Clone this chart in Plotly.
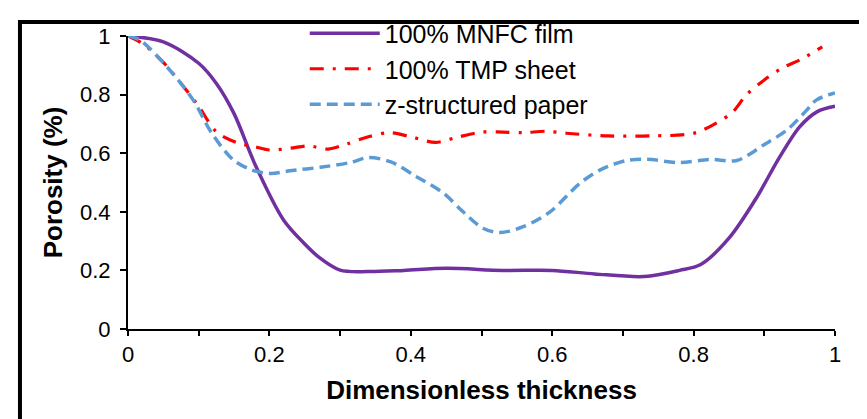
import plotly.graph_objects as go

# ---- data ----
mnfc_x = [0, 0.05, 0.10, 0.125, 0.15, 0.18, 0.22, 0.25, 0.27, 0.30, 0.34, 0.39, 0.45, 0.53,
          0.60, 0.66, 0.73, 0.78, 0.81, 0.85, 0.89, 0.92, 0.95, 0.975, 1.0]
mnfc_y = [1.0, 0.98, 0.907, 0.838, 0.735, 0.56, 0.372, 0.29, 0.245, 0.201, 0.196, 0.2, 0.207, 0.2,
          0.2, 0.188, 0.179, 0.2, 0.22, 0.31, 0.452, 0.58, 0.69, 0.742, 0.76]

tmp_x = [0, 0.02, 0.05, 0.075, 0.10, 0.125, 0.155, 0.18, 0.20, 0.23, 0.255, 0.283, 0.31, 0.34,
         0.37, 0.40, 0.435, 0.465, 0.50, 0.53, 0.56, 0.59, 0.62, 0.68, 0.74, 0.80, 0.83, 0.855,
         0.875, 0.90, 0.925, 0.95, 0.982]
tmp_y = [1.0, 0.975, 0.91, 0.838, 0.76, 0.673, 0.635, 0.622, 0.611, 0.617, 0.625, 0.614, 0.632, 0.656,
         0.67, 0.656, 0.637, 0.654, 0.672, 0.672, 0.67, 0.675, 0.668, 0.659, 0.659, 0.668, 0.70, 0.74,
         0.80, 0.85, 0.89, 0.918, 0.963]

zs_x = [0, 0.017, 0.055, 0.092, 0.118, 0.149, 0.175, 0.201, 0.229, 0.272, 0.314, 0.34, 0.371, 0.408,
        0.446, 0.474, 0.502, 0.526, 0.559, 0.597, 0.639, 0.668, 0.705, 0.734, 0.781, 0.823, 0.861,
        0.899, 0.932, 0.96, 0.974, 1.0]
zs_y = [1.0, 0.986, 0.895, 0.782, 0.67, 0.577, 0.543, 0.531, 0.54, 0.552, 0.568, 0.585, 0.571, 0.52,
        0.464, 0.40, 0.344, 0.329, 0.349, 0.40, 0.497, 0.543, 0.575, 0.579, 0.568, 0.579, 0.575,
        0.628, 0.679, 0.747, 0.782, 0.806]

x_tickvals = [0, 0.1, 0.2, 0.3, 0.4, 0.5, 0.6, 0.7, 0.8, 0.9, 1.0]
x_ticktext = ["0", "", "0.2", "", "0.4", "", "0.6", "", "0.8", "", "1"]
y_tickvals = [0, 0.2, 0.4, 0.6, 0.8, 1.0]
y_ticktext = ["0", "0.2", "0.4", "0.6", "0.8", "1"]

FONT = "Liberation Sans, Arial, sans-serif"

fig = go.Figure()
fig.add_trace(go.Scatter(x=mnfc_x, y=mnfc_y, mode="lines", name="100% MNFC film",
                         line=dict(color="#7030A0", width=3.5, shape="spline", smoothing=0.9)))
fig.add_trace(go.Scatter(x=tmp_x, y=tmp_y, mode="lines", name="100% TMP sheet",
                         line=dict(color="#FF0000", width=3.2, shape="spline", smoothing=0.9,
                                   dash="14px,9px,3px,9px")))
fig.add_trace(go.Scatter(x=zs_x, y=zs_y, mode="lines", name="z-structured paper",
                         line=dict(color="#5B9BD5", width=3.5, shape="spline", smoothing=0.9,
                                   dash="11px,6px")))

fig.update_layout(
    width=859, height=411,
    margin=dict(l=120, r=32, t=28, b=90, autoexpand=False),
    paper_bgcolor="white", plot_bgcolor="white",
    font=dict(family=FONT, color="black", size=22),
    showlegend=True,
    legend=dict(x=0.25, y=1.087, xanchor="left", yanchor="top",
                bgcolor="rgba(0,0,0,0)", font=dict(size=25, family=FONT, color="black"),
                tracegroupgap=0, itemwidth=70),
    xaxis=dict(range=[0, 1], tickvals=x_tickvals, ticktext=x_ticktext, automargin=False,
               showgrid=False, zeroline=False, showline=True, linecolor="black", linewidth=2,
               ticks="outside", ticklen=5, tickwidth=2, tickcolor="black",
               tickfont=dict(size=22, family=FONT, color="black"),
               title=dict(text="<b>Dimensionless thickness</b>", font=dict(size=26, family=FONT),
                          standoff=14)),
    yaxis=dict(range=[0, 1], tickvals=y_tickvals, ticktext=y_ticktext, automargin=False,
               showgrid=False, zeroline=False, showline=True, linecolor="black", linewidth=2,
               ticks="outside", ticklen=6, tickwidth=2, tickcolor="black",
               ticklabelstandoff=5,
               tickfont=dict(size=22, family=FONT, color="black"),
               title=dict(text="<b>Porosity (%)</b>", font=dict(size=26, family=FONT),
                          standoff=10)),
    shapes=[dict(type="rect", xref="paper", yref="paper",
                 x0=-0.1528, x1=1.07, y0=-0.35, y1=1.048,
                 line=dict(color="black", width=4), fillcolor="rgba(0,0,0,0)", layer="above")],
)

fig.write_html("out.html")
